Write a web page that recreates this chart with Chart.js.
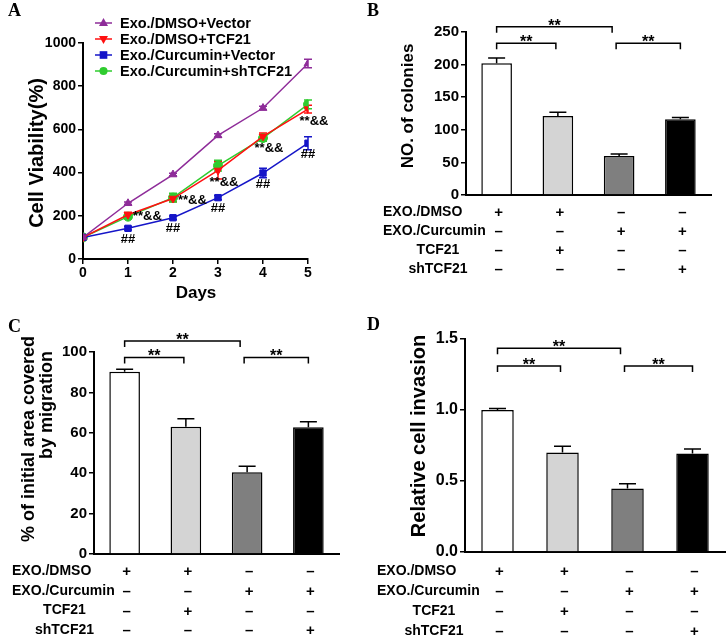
<!DOCTYPE html>
<html><head><meta charset="utf-8">
<script src="https://cdn.jsdelivr.net/npm/chart.js@4.4.1/dist/chart.umd.min.js"></script>
<style>
html,body{margin:0;padding:0;background:#fff;}
#wrap{position:relative;width:727px;height:639px;overflow:hidden;background:#fff;}
canvas{position:absolute;}
</style></head><body>
<div id="wrap">
<canvas id="cA" width="360" height="310" style="left:0px;top:0px"></canvas>
<canvas id="cB" width="367" height="310" style="left:360px;top:0px"></canvas>
<canvas id="cC" width="360" height="329" style="left:0px;top:310px"></canvas>
<canvas id="cD" width="367" height="329" style="left:360px;top:310px"></canvas>
</div>
<script>
// ---------- DATA ----------
const days = [0, 1, 2, 3, 4, 5];
const seriesLabels = ['Exo./DMSO+Vector', 'Exo./DMSO+TCF21', 'Exo./Curcumin+Vector', 'Exo./Curcumin+shTCF21'];
const dmsoVector = [100, 258, 391, 572, 699, 905];
const dmsoVectorErr = [0, 6, 6, 8, 8, 20];
const dmsoTCF21 = [100, 205, 280, 410, 568, 694];
const dmsoTCF21Err = [0, 12, 15, 40, 15, 18];
const curVector = [100, 142, 191, 284, 398, 536];
const curVectorErr = [0, 8, 8, 10, 22, 30];
const curShTCF21 = [100, 196, 284, 432, 560, 716];
const curShTCF21Err = [0, 10, 20, 25, 15, 20];
const starAnnot = ['**&&', '**&&', '**&&', '**&&', '**&&'];   // days 1..5
const hashAnnot = ['##', '##', '##', '##', '##'];             // days 1..5

const groups = ['1', '2', '3', '4'];
const colonies = [202, 121, 60, 116];
const coloniesErr = [8, 6, 3, 3];
const migration = [90.2, 63, 40.5, 62.7];
const migrationErr = [1.2, 4, 3, 2.8];
const invasion = [1.0, 0.70, 0.447, 0.693];
const invasionErr = [0.01, 0.045, 0.033, 0.033];

const rowLabels = ['EXO./DMSO', 'EXO./Curcumin', 'TCF21', 'shTCF21'];
const rowSigns = [['+', '+', '–', '–'], ['–', '–', '+', '+'], ['–', '+', '–', '–'], ['–', '–', '–', '+']];
const comparisons = [[0, 2], [0, 1], [2, 3]];
const sigLabel = '**';

// ---------- STYLE ----------
const FONT = '"Liberation Sans", Arial, Helvetica, sans-serif';
const SERIF = '"Liberation Serif", "Times New Roman", serif';
Chart.defaults.font.family = FONT;
Chart.defaults.color = '#000';
const colA = ['#8E2C99', '#FF1010', '#1515C8', '#2FCC2F'];
const styleA = [['triangle', 0], ['triangle', 180], ['rect', 0], ['circle', 0]];
const barFills = ['#ffffff', '#d4d4d4', '#7f7f7f', '#000000'];

function txt(ctx, s, x, y, font, align, base, rot) {
  ctx.save();
  ctx.font = font; ctx.fillStyle = '#000';
  ctx.textAlign = align || 'left'; ctx.textBaseline = base || 'middle';
  ctx.translate(x, y); if (rot) ctx.rotate(rot);
  ctx.fillText(s, 0, 0);
  ctx.restore();
}
function drawMarker(ctx, style, x, y, r, rot, color) {
  ctx.save(); ctx.fillStyle = color; ctx.translate(x, y); ctx.rotate((rot || 0) * Math.PI / 180);
  ctx.beginPath();
  if (style === 'triangle') { ctx.moveTo(0, -r * 1.1); ctx.lineTo(r, r * 0.65); ctx.lineTo(-r, r * 0.65); ctx.closePath(); }
  else if (style === 'rect') { ctx.rect(-r * 0.85, -r * 0.85, r * 1.7, r * 1.7); }
  else { ctx.arc(0, 0, r * 0.9, 0, Math.PI * 2); }
  ctx.fill(); ctx.restore();
}

// ---------- PANEL A ----------
const seriesA = [
  { label: seriesLabels[0], values: dmsoVector, err: dmsoVectorErr },
  { label: seriesLabels[1], values: dmsoTCF21, err: dmsoTCF21Err },
  { label: seriesLabels[2], values: curVector, err: curVectorErr },
  { label: seriesLabels[3], values: curShTCF21, err: curShTCF21Err }
];
const areaA = { left: 83, top: 43, right: 308, bottom: 259, W: 360, H: 310 };

const plugA = {
  id: 'plugA',
  beforeDatasetsDraw(chart) {
    const ctx = chart.ctx, ys = chart.scales.y;
    seriesA.forEach((s, i) => {
      const meta = chart.getDatasetMeta(i);
      ctx.save(); ctx.strokeStyle = colA[i]; ctx.lineWidth = 1.5;
      s.err.forEach((e, j) => {
        if (!e) return;
        const p = meta.data[j];
        const y1 = ys.getPixelForValue(s.values[j] + e), y2 = ys.getPixelForValue(s.values[j] - e);
        ctx.beginPath();
        ctx.moveTo(p.x, y1); ctx.lineTo(p.x, y2);
        ctx.moveTo(p.x - 4, y1); ctx.lineTo(p.x + 4, y1);
        ctx.moveTo(p.x - 4, y2); ctx.lineTo(p.x + 4, y2);
        ctx.stroke();
      });
      ctx.restore();
    });
  },
  afterDraw(chart) {
    const ctx = chart.ctx, xs = chart.scales.x, ys = chart.scales.y;
    // legend
    seriesA.forEach((s, i) => {
      const y = 23 + i * 16;
      ctx.save(); ctx.strokeStyle = colA[i]; ctx.lineWidth = 1.5;
      ctx.beginPath(); ctx.moveTo(95, y); ctx.lineTo(112, y); ctx.stroke(); ctx.restore();
      drawMarker(ctx, styleA[i][0], 103.5, y, 4.5, styleA[i][1], colA[i]);
      txt(ctx, s.label, 120, y + 1, 'bold 14.5px ' + FONT, 'left', 'middle');
    });
    // annotations
    const f = 'bold 13px ' + FONT;
    for (let d = 1; d <= 5; d++) {
      const x = xs.getPixelForValue(days[d]);
      const yR = ys.getPixelForValue(dmsoTCF21[d]);
      if (d <= 2) txt(ctx, starAnnot[d - 1], x + 5, yR + 2, f, 'left', 'middle');
      else txt(ctx, starAnnot[d - 1], x + 6, yR + 12, f, 'center', 'middle');
      const yB = ys.getPixelForValue(curVector[d]);
      txt(ctx, hashAnnot[d - 1], x, yB + 11, f, 'center', 'middle');
    }
    // titles
    txt(ctx, 'Cell Viability(%)', 37, 153, 'bold 20px ' + FONT, 'center', 'middle', -Math.PI / 2);
    txt(ctx, 'Days', 196, 293, 'bold 17px ' + FONT, 'center', 'middle');
    txt(ctx, 'A', 8, 16, 'bold 18px ' + SERIF, 'left', 'alphabetic');
  }
};

new Chart(document.getElementById('cA'), {
  type: 'line',
  data: {
    datasets: seriesA.map((s, i) => ({
      label: s.label,
      data: days.map((d, j) => ({ x: d, y: s.values[j] })),
      borderColor: colA[i], backgroundColor: colA[i],
      pointStyle: styleA[i][0], pointRotation: styleA[i][1],
      pointRadius: 4.5, pointBorderWidth: 1, borderWidth: 1.5, tension: 0
    }))
  },
  options: {
    responsive: false, animation: false, devicePixelRatio: 1,
    layout: { padding: { left: 0, top: areaA.top, right: areaA.W - areaA.right, bottom: 0 } },
    plugins: { legend: { display: false }, tooltip: { enabled: false } },
    scales: {
      x: {
        type: 'linear', min: 0, max: 5,
        ticks: { stepSize: 1, font: { size: 14, weight: 'bold' }, color: '#000', padding: 1, callback: v => String(v) },
        grid: { drawOnChartArea: false, drawTicks: true, tickLength: 5, color: '#000', lineWidth: 1.5 },
        border: { display: true, color: '#000', width: 2 },
        afterFit(s) { s.height = areaA.H - areaA.bottom; }
      },
      y: {
        min: 0, max: 1000,
        ticks: { stepSize: 200, font: { size: 14, weight: 'bold' }, color: '#000', padding: 2, callback: v => String(v) },
        grid: { drawOnChartArea: false, drawTicks: true, tickLength: 5, color: '#000', lineWidth: 1.5 },
        border: { display: true, color: '#000', width: 2 },
        afterFit(s) { s.width = areaA.left; }
      }
    }
  },
  plugins: [plugA]
});

// ---------- BAR PANELS ----------
function barPanel(cfg) {
  const a = cfg.area;
  const deco = {
    id: 'deco' + cfg.letter,
    afterDatasetsDraw(chart) {
      const ctx = chart.ctx, xs = chart.scales.x, ys = chart.scales.y;
      ctx.save(); ctx.strokeStyle = '#000'; ctx.lineWidth = 1.5;
      cfg.values.forEach((v, i) => {
        const x = xs.getPixelForValue(i);
        const y0 = ys.getPixelForValue(v), y1 = ys.getPixelForValue(v + cfg.errs[i]);
        ctx.beginPath(); ctx.moveTo(x, y0); ctx.lineTo(x, y1);
        ctx.moveTo(x - 8.5, y1); ctx.lineTo(x + 8.5, y1); ctx.stroke();
      });
      ctx.restore();
    },
    afterDraw(chart) {
      const ctx = chart.ctx, xs = chart.scales.x, ys = chart.scales.y;
      // brackets
      ctx.save(); ctx.strokeStyle = '#000'; ctx.lineWidth = 1.5;
      comparisons.forEach((c, k) => {
        const x1 = xs.getPixelForValue(c[0]) + cfg.bracketInset[k][0];
        const x2 = xs.getPixelForValue(c[1]) + cfg.bracketInset[k][1];
        const y = ys.getPixelForValue(cfg.bracketLevels[k]);
        ctx.beginPath(); ctx.moveTo(x1, y + 6); ctx.lineTo(x1, y); ctx.lineTo(x2, y); ctx.lineTo(x2, y + 6); ctx.stroke();
        txt(ctx, sigLabel, (x1 + x2) / 2, y + 4, 'bold 16px ' + FONT, 'center', 'alphabetic');
      });
      ctx.restore();
      // table
      const tf = 'bold 14px ' + FONT;
      rowLabels.forEach((lab, r) => {
        const y = a.bottom + cfg.row0 + r * cfg.rowStep;
        if (r < 2) txt(ctx, lab, a.left - cfg.labLeft, y, tf, 'left', 'middle');
        else txt(ctx, lab, a.left - cfg.labCenter, y, tf, 'center', 'middle');
        rowSigns[r].forEach((s, j) => {
          txt(ctx, s, xs.getPixelForValue(j) + 2, y + 1, 'bold 15px ' + FONT, 'center', 'middle');
        });
      });
      // title
      cfg.titles.forEach(t => txt(ctx, t.text, t.x, t.y, 'bold ' + t.size + 'px ' + FONT, 'center', 'middle', -Math.PI / 2));
      txt(ctx, cfg.letter, cfg.letterPos[0], cfg.letterPos[1], 'bold 18px ' + SERIF, 'left', 'alphabetic');
    }
  };
  return new Chart(document.getElementById(cfg.id), {
    type: 'bar',
    data: {
      labels: groups,
      datasets: [{ data: cfg.values, backgroundColor: barFills, borderColor: '#000', borderWidth: 1.5,
        categoryPercentage: 0.5, barPercentage: 1 }]
    },
    options: {
      responsive: false, animation: false, devicePixelRatio: 1,
      layout: { padding: { left: 0, top: a.top, right: a.W - a.right, bottom: 0 } },
      plugins: { legend: { display: false }, tooltip: { enabled: false } },
      scales: {
        x: {
          ticks: { display: false },
          grid: { display: false, drawTicks: false },
          border: { display: true, color: '#000', width: 2 },
          afterFit(s) { s.height = a.H - a.bottom; }
        },
        y: {
          min: cfg.min, max: cfg.max,
          ticks: { stepSize: cfg.step, font: { size: cfg.tickSize, weight: 'bold' }, color: '#000', padding: 2,
            callback: v => cfg.decimals ? Number(v).toFixed(cfg.decimals) : String(v) },
          grid: { drawOnChartArea: false, drawTicks: true, tickLength: 5, color: '#000', lineWidth: 1.5 },
          border: { display: true, color: '#000', width: 2 },
          afterFit(s) { s.width = a.left; }
        }
      }
    },
    plugins: [deco]
  });
}

barPanel({
  id: 'cB', letter: 'B', letterPos: [7, 16],
  area: { left: 106, top: 32, right: 351, bottom: 195, W: 367, H: 310 },
  values: colonies, errs: coloniesErr, min: 0, max: 250, step: 50, tickSize: 15, decimals: 0,
  bracketLevels: [258, 232.7, 232.7], bracketInset: [[0, -7], [0, -2], [-3, 0]],
  row0: 17, rowStep: 19, labLeft: 83, labCenter: 28,
  titles: [{ text: 'NO. of colonies', x: 48, y: 106, size: 17 }]
});
barPanel({
  id: 'cC', letter: 'C', letterPos: [8, 22],
  area: { left: 94, top: 42, right: 339, bottom: 244, W: 360, H: 329 },
  values: migration, errs: migrationErr, min: 0, max: 100, step: 20, tickSize: 15, decimals: 0,
  bracketLevels: [105.5, 97.3, 97.3], bracketInset: [[0, -7], [0, -2], [-3, 0]],
  row0: 17, rowStep: 19.7, labLeft: 82, labCenter: 29.5,
  titles: [{ text: '% of initial area covered', x: 29, y: 129, size: 18 }, { text: 'by migration', x: 47, y: 95, size: 18 }]
});
barPanel({
  id: 'cD', letter: 'D', letterPos: [7, 20],
  area: { left: 105, top: 29, right: 365, bottom: 242, W: 367, H: 329 },
  values: invasion, errs: invasionErr, min: 0, max: 1.5, step: 0.5, tickSize: 16, decimals: 1,
  bracketLevels: [1.435, 1.31, 1.31], bracketInset: [[0, -7], [0, -2], [-3, 0]],
  row0: 19, rowStep: 20, labLeft: 88, labCenter: 31,
  titles: [{ text: 'Relative cell invasion', x: 59, y: 126, size: 20 }]
});
</script>
</body></html>
